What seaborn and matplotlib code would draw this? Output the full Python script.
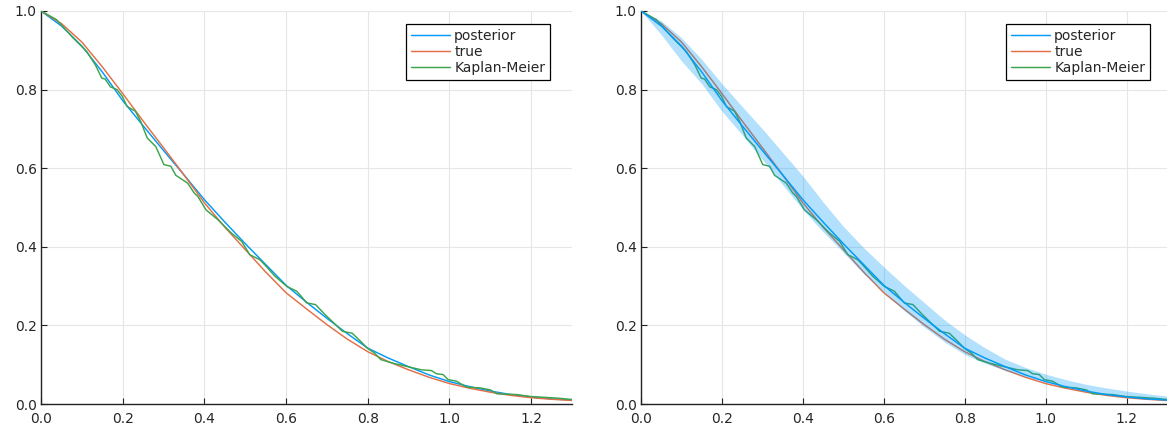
import numpy as np
import pandas as pd
import matplotlib
matplotlib.use("Agg")
import matplotlib.pyplot as plt
import seaborn as sns

# ---- data ----
t_grid = [0.0, 0.05, 0.1, 0.15, 0.2, 0.25, 0.3, 0.35, 0.4, 0.45, 0.5, 0.55, 0.6, 0.65,
          0.7, 0.75, 0.8, 0.85, 0.9, 0.95, 1.0, 1.05, 1.1, 1.15, 1.2, 1.25, 1.3]
true_s = [1.0, 0.968, 0.921, 0.858, 0.79, 0.72, 0.652, 0.583, 0.512, 0.45, 0.393, 0.336, 0.283,
          0.242, 0.202, 0.165, 0.133, 0.108, 0.087, 0.068, 0.052, 0.040, 0.030, 0.022, 0.016,
          0.012, 0.009]
post_s = [1.0, 0.962, 0.911, 0.845, 0.772, 0.708, 0.645, 0.583, 0.52, 0.463, 0.408, 0.355,
          0.302, 0.259, 0.218, 0.179, 0.142, 0.117, 0.095, 0.074, 0.057, 0.044, 0.033, 0.024,
          0.018, 0.013, 0.010]
band_upper = [1.0, 0.975, 0.932, 0.877, 0.815, 0.757, 0.70, 0.64, 0.58, 0.514, 0.452, 0.398,
              0.349, 0.302, 0.258, 0.214, 0.176, 0.143, 0.114, 0.093, 0.076, 0.062, 0.050,
              0.041, 0.033, 0.026, 0.020]
band_lower = [1.0, 0.94, 0.873, 0.815, 0.745, 0.685, 0.622, 0.558, 0.495, 0.438, 0.386, 0.332,
              0.285, 0.238, 0.196, 0.158, 0.126, 0.104, 0.085, 0.070, 0.057, 0.045, 0.035,
              0.026, 0.019, 0.014, 0.010]
km_t = [0.0, 0.038, 0.079, 0.112, 0.133, 0.149, 0.157, 0.170, 0.186, 0.199, 0.211, 0.231,
        0.244, 0.260, 0.281, 0.301, 0.318, 0.330, 0.359, 0.375, 0.384, 0.404, 0.433, 0.466,
        0.491, 0.511, 0.536, 0.548, 0.573, 0.602, 0.626, 0.651, 0.672, 0.696, 0.721, 0.738,
        0.762, 0.783, 0.799, 0.816, 0.832, 0.861, 0.902, 0.931, 0.956, 0.968, 0.984, 0.997,
        1.017, 1.042, 1.075, 1.100, 1.116, 1.165, 1.199, 1.264, 1.305]
km_s = [1.0, 0.978, 0.931, 0.897, 0.863, 0.829, 0.827, 0.807, 0.800, 0.783, 0.757, 0.745,
        0.719, 0.677, 0.655, 0.609, 0.605, 0.582, 0.562, 0.537, 0.528, 0.494, 0.469, 0.435,
        0.414, 0.380, 0.367, 0.354, 0.325, 0.299, 0.287, 0.257, 0.253, 0.227, 0.202, 0.185,
        0.180, 0.159, 0.142, 0.130, 0.113, 0.104, 0.094, 0.087, 0.085, 0.077, 0.075, 0.062,
        0.058, 0.043, 0.041, 0.036, 0.026, 0.024, 0.019, 0.015, 0.011]
labels = ["posterior", "true", "Kaplan-Meier"]
x_ticks = [0.0, 0.2, 0.4, 0.6, 0.8, 1.0, 1.2]
y_ticks = [0.0, 0.2, 0.4, 0.6, 0.8, 1.0]

C_BLUE, C_ORANGE, C_GREEN = "#009AF9", "#E26F46", "#3DA44D"

sns.set_style("white")
plt.rcParams["font.family"] = ["DejaVu Sans"]

fig = plt.figure(figsize=(11.67, 4.25), dpi=100)
ax1 = fig.add_axes([41 / 1167, 21 / 425, 531 / 1167, 393 / 425])
ax2 = fig.add_axes([641 / 1167, 21 / 425, 526 / 1167, 393 / 425])

df_curves = pd.DataFrame({"t": t_grid, "true": true_s, "post": post_s,
                          "lo": band_lower, "hi": band_upper})
df_km = pd.DataFrame({"t": km_t, "s": km_s})

lw = 1.05
# left panel
sns.lineplot(data=df_curves, x="t", y="post", ax=ax1, color=C_BLUE, lw=lw, label=labels[0], zorder=3)
sns.lineplot(data=df_curves, x="t", y="true", ax=ax1, color=C_ORANGE, lw=lw, label=labels[1], zorder=3)
sns.lineplot(data=df_km, x="t", y="s", ax=ax1, color=C_GREEN, lw=lw, label=labels[2], zorder=3)

# right panel: true & KM under the translucent ribbon, posterior line on top
sns.lineplot(data=df_curves, x="t", y="post", ax=ax2, color=C_BLUE, lw=lw, label=labels[0], zorder=5)
sns.lineplot(data=df_curves, x="t", y="true", ax=ax2, color=C_ORANGE, lw=lw, label=labels[1], zorder=2)
sns.lineplot(data=df_km, x="t", y="s", ax=ax2, color=C_GREEN, lw=lw, label=labels[2], zorder=2)
ax2.fill_between(df_curves["t"], df_curves["lo"], df_curves["hi"], color=C_BLUE,
                 alpha=0.3, lw=0, zorder=4)

for ax, anchor in ((ax1, (0.9586, 0.967)), (ax2, (0.9677, 0.967))):
    ax.set_xlim(0, 1.3)
    ax.set_ylim(0, 1)
    ax.set_xticks(x_ticks)
    ax.set_yticks(y_ticks)
    ax.set_xticklabels([f"{v:.1f}" for v in x_ticks])
    ax.set_yticklabels([f"{v:.1f}" for v in y_ticks])
    ax.set_xlabel("")
    ax.set_ylabel("")
    ax.grid(True, color="#e6e6e6", lw=0.8)
    ax.set_axisbelow(True)
    for s in ("top", "right"):
        ax.spines[s].set_visible(False)
    for s in ("left", "bottom"):
        ax.spines[s].set_color("#222222")
        ax.spines[s].set_linewidth(1.0)
    ax.tick_params(direction="in", length=4, width=0.8, labelsize=10, color="#222222",
                   left=True, bottom=True)
    ax.tick_params(axis="x", pad=6)
    ax.tick_params(axis="y", pad=3)
    leg = ax.legend(loc="upper right", bbox_to_anchor=anchor, fontsize=10,
                    frameon=True, fancybox=False, framealpha=1, edgecolor="black",
                    handlelength=2.8, labelspacing=0.15, borderpad=0.35,
                    handletextpad=0.3, borderaxespad=0)
    leg.get_frame().set_linewidth(0.9)

fig.savefig("out.png", dpi=100)
